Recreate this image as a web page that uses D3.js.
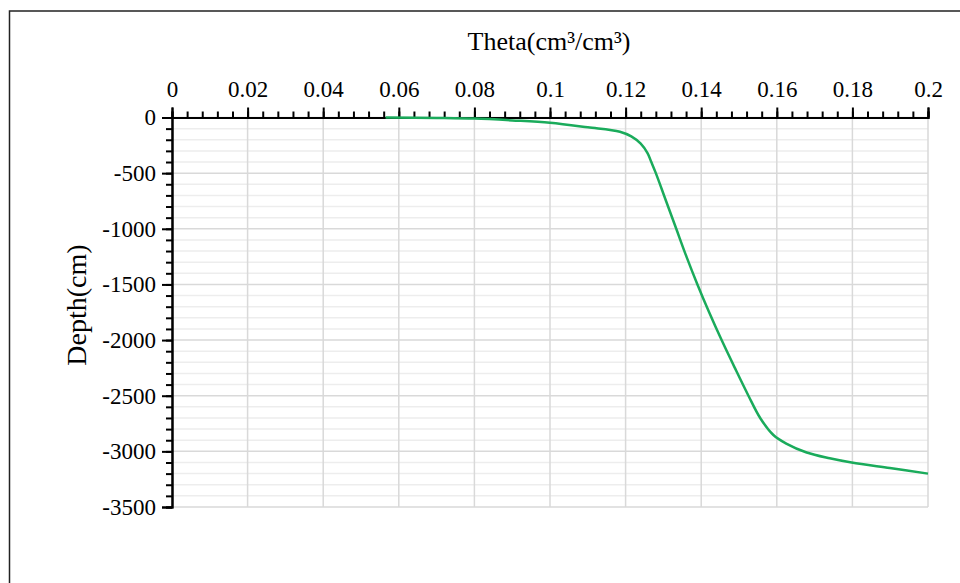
<!DOCTYPE html>
<html>
<head>
<meta charset="utf-8">
<script src="https://cdn.jsdelivr.net/npm/d3@7"></script>
<style>
  body { margin: 0; background: #fff; }
  text { font-family: "Liberation Serif", "Times New Roman", serif; fill: #000; }
</style>
</head>
<body>
<div id="chart"></div>
<script>
// data
var theta = [0.0565, 0.07, 0.08, 0.09, 0.1, 0.11, 0.1185, 0.1215, 0.1240, 0.1258,
  0.1268, 0.1280, 0.1307, 0.1334, 0.1361, 0.1390, 0.1421, 0.1454, 0.1489, 0.1525,
  0.1556, 0.1591, 0.1625, 0.1679, 0.1740, 0.1798, 0.1899, 0.2];
var depth = [0, -4, -10, -26, -47, -88, -128, -170, -235, -320,
  -400, -500, -750, -1000, -1250, -1500, -1750, -2000, -2250, -2500,
  -2700, -2853, -2930, -3010, -3062, -3100, -3150, -3200];

var xTicks = [0, 0.02, 0.04, 0.06, 0.08, 0.1, 0.12, 0.14, 0.16, 0.18, 0.2];
var yTicks = [0, -500, -1000, -1500, -2000, -2500, -3000, -3500];

var svgWidth = 960;
var svgHeight = 583;

var margin = { top: 117.5, left: 172, right: 32, bottom: 76 };
var width = svgWidth - margin.left - margin.right;
var height = svgHeight - margin.top - margin.bottom;

var svg = d3.select("#chart")
  .append("svg")
  .attr("width", svgWidth)
  .attr("height", svgHeight);

// outer frame
svg.append("rect")
  .attr("x", 9.5)
  .attr("y", 11)
  .attr("width", 1000)
  .attr("height", 700)
  .attr("fill", "none")
  .attr("stroke", "#222")
  .attr("stroke-width", 1.5);

var chartGroup = svg.append("g")
  .attr("transform", `translate(${margin.left}, ${margin.top})`);

var xScale = d3.scaleLinear()
  .domain([0, 0.2])
  .range([0, width]);

var yScale = d3.scaleLinear()
  .domain([0, -3500])
  .range([0, height]);

// minor horizontal grid every 100
chartGroup.append("g")
  .selectAll("line")
  .data(d3.range(0, -3501, -100).filter(d => d % 500 !== 0))
  .enter()
  .append("line")
  .attr("x1", 0)
  .attr("x2", width)
  .attr("y1", d => yScale(d))
  .attr("y2", d => yScale(d))
  .attr("stroke", "#ededed")
  .attr("stroke-width", 1.5);

// major grid
chartGroup.append("g")
  .selectAll("line")
  .data(yTicks)
  .enter()
  .append("line")
  .attr("x1", 0)
  .attr("x2", width)
  .attr("y1", d => yScale(d))
  .attr("y2", d => yScale(d))
  .attr("stroke", "#d9d9d9")
  .attr("stroke-width", 1.5);

chartGroup.append("g")
  .selectAll("line")
  .data(xTicks)
  .enter()
  .append("line")
  .attr("x1", d => xScale(d))
  .attr("x2", d => xScale(d))
  .attr("y1", 0)
  .attr("y2", height)
  .attr("stroke", "#d9d9d9")
  .attr("stroke-width", 1.5);

// minor ticks
var topMinor = d3.axisTop(xScale)
  .tickValues(d3.range(0, 0.2001, 0.004))
  .tickSize(6)
  .tickFormat("");
chartGroup.append("g").attr("class", "axis").call(topMinor);

var leftMinor = d3.axisLeft(yScale)
  .tickValues(d3.range(0, -3501, -100))
  .tickSize(6)
  .tickFormat("");
chartGroup.append("g").attr("class", "axis").call(leftMinor);

// major ticks + labels
var topAxis = d3.axisTop(xScale)
  .tickValues(xTicks)
  .tickSize(10)
  .tickPadding(11)
  .tickFormat(d => String(+d.toFixed(2)));
chartGroup.append("g").attr("class", "axis").call(topAxis);

var leftAxis = d3.axisLeft(yScale)
  .tickValues(yTicks)
  .tickSize(10)
  .tickPadding(6)
  .tickFormat(d => String(d));
chartGroup.append("g").attr("class", "axis").call(leftAxis);

chartGroup.selectAll(".axis")
  .attr("font-family", '"Liberation Serif", serif')
  .attr("font-size", 23);
chartGroup.selectAll(".axis path").attr("stroke", "#000").attr("stroke-width", 2);
chartGroup.selectAll(".axis line").attr("stroke", "#000").attr("stroke-width", 2);
chartGroup.selectAll(".axis text")
  .style("font-family", '"Liberation Serif", serif')
  .style("font-size", "23px")
  .attr("fill", "#000");

// the curve
var points = theta.map((t, i) => ({ x: t, y: depth[i] }));
var line = d3.line()
  .x(d => xScale(d.x))
  .y(d => yScale(d.y))
  .curve(d3.curveCatmullRom.alpha(0.5));

chartGroup.append("path")
  .datum(points)
  .attr("d", line)
  .attr("fill", "none")
  .attr("stroke", "#1aab5b")
  .attr("stroke-width", 2.5);

// axis titles
svg.append("text")
  .attr("x", 549)
  .attr("y", 50)
  .attr("text-anchor", "middle")
  .style("font-size", "26px")
  .text("Theta(cm³/cm³)");

svg.append("text")
  .attr("transform", "translate(86, 305) rotate(-90)")
  .attr("text-anchor", "middle")
  .style("font-size", "28px")
  .text("Depth(cm)");
</script>
</body>
</html>
